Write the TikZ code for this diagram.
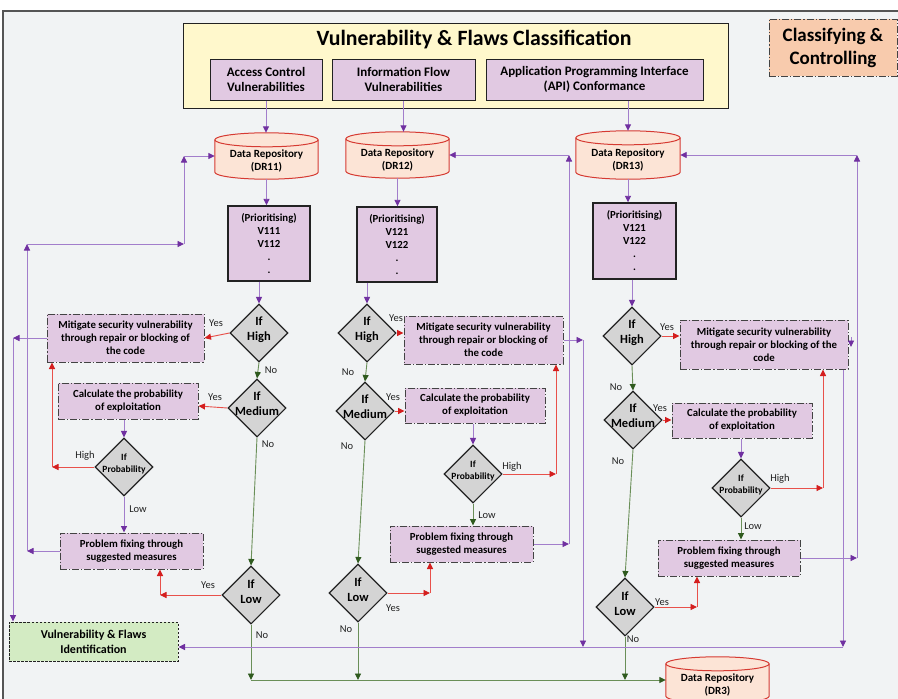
\documentclass[tikz,border=0pt]{standalone}
\usepackage{fontspec}
\setmainfont{Carlito}
\usetikzlibrary{arrows.meta,shapes.geometric,calc}

\definecolor{bgc}{HTML}{F1F3F4}
\definecolor{framec}{HTML}{555555}
\definecolor{titlefill}{HTML}{FFF8CC}
\definecolor{boxfill}{HTML}{E1C9E2}
\definecolor{cylfill}{HTML}{FCE4D6}
\definecolor{cylline}{HTML}{D63A32}
\definecolor{dmdfill}{HTML}{D4D4D4}
\definecolor{vfifill}{HTML}{D3EBC3}
\definecolor{ccfill}{HTML}{F8CBAD}
\definecolor{pline}{HTML}{A27DCB}
\definecolor{phead}{HTML}{7030A0}
\definecolor{rline}{HTML}{E8504A}
\definecolor{rhead}{HTML}{D41E1E}
\definecolor{gline}{HTML}{6A8F58}
\definecolor{ghead}{HTML}{2F5A1E}
\definecolor{ink}{HTML}{222222}

% cylinder outline drawn around an (invisible) rectangular node
\newcommand\drawcyl[1]{%
  \path let \p1=(#1.north west), \p2=(#1.south east), \n1={(\x2-\x1)/2} in
    [fill=cylfill, draw=cylline, line width=1pt]
    ({\x1},{\y1-7pt}) -- ({\x1},{\y2+7pt})
    arc[start angle=180, end angle=360, x radius={\n1*1pt}, y radius=7pt]
    -- ({\x2},{\y1-7pt})
    arc[start angle=0, end angle=180, x radius={\n1*1pt}, y radius=7pt] -- cycle;
  \path let \p1=(#1.north west), \p2=(#1.south east), \n1={(\x2-\x1)/2} in
    [draw=cylline, line width=1pt]
    ({\x1},{\y1-7pt}) arc[start angle=180, end angle=360, x radius={\n1*1pt}, y radius=7pt];
}

\tikzset{
  x=1pt, y=-1pt,
  titlebox/.style={draw=ink, line width=1pt, fill=titlefill},
  titletext/.style={font=\fontsize{21.8}{25}\selectfont\bfseries, inner sep=0pt},
  subbox/.style={draw=ink, line width=1pt, fill=boxfill, align=center, inner sep=1pt,
    font=\fontsize{13}{15.5}\selectfont\bfseries},
  ccbox/.style={draw=ink!85, line width=1pt, fill=ccfill, align=center, inner sep=1pt,
    dash pattern=on 7pt off 2pt on 1.2pt off 2pt,
    font=\fontsize{19}{23}\selectfont\bfseries},
  priobox/.style={draw=ink, line width=1.4pt, fill=boxfill, align=center, inner sep=1pt,
    font=\fontsize{10.8}{13}\selectfont\bfseries},
  actbox/.style={draw=ink!85, line width=1pt, fill=boxfill, align=center, inner sep=1pt,
    dash pattern=on 7pt off 2pt on 1.2pt off 2pt,
    font=\fontsize{10.8}{13}\selectfont\bfseries},
  vfibox/.style={draw=ink, line width=1pt, fill=vfifill, align=center, inner sep=1pt,
    dash pattern=on 2.5pt off 1.5pt,
    font=\fontsize{12}{15}\selectfont\bfseries},
  cylnode/.style={shape=rectangle, draw=none, inner sep=0pt},
  cyltext/.style={align=center, inner sep=0pt, font=\fontsize{11}{13.5}\selectfont\bfseries},
  dmd/.style={diamond, aspect=1, draw=ink, line width=1.1pt, fill=dmdfill,
    minimum width=58pt, minimum height=58pt, inner sep=0pt},
  dtext/.style={align=center, inner sep=0pt, font=\fontsize{12.5}{15}\selectfont\bfseries},
  ptext/.style={align=center, inner sep=0pt, font=\fontsize{9.5}{12}\selectfont\bfseries},
  lbl/.style={inner sep=0pt, text=ink, font=\fontsize{10.5}{12}\selectfont},
  parr/.style={draw=pline, line width=0.9pt, -{Triangle[length=6.5pt,width=6pt,color=phead]}},
  rarr/.style={draw=rline, line width=0.9pt, -{Triangle[length=6.5pt,width=6pt,color=rhead]}},
  garr/.style={draw=gline, line width=0.9pt, -{Triangle[length=6.5pt,width=6pt,color=ghead]}},
}

\begin{document}
\begin{tikzpicture}
\useasboundingbox (0,0) rectangle (898,699);
% canvas and frame
\fill[white] (0,0) rectangle (898,699);
\fill[bgc] (3,11) rectangle (898,699);
\draw[framec, line width=1.5pt] (3,699) -- (3,11) -- (898,11);

% classification header
\node[titlebox, minimum width=545pt, minimum height=85pt] (cls) at (455.5,65.5) {};
\node[titletext] (clst) at (474,40) {Vulnerability \& Flaws Classification};
\node[subbox, minimum width=112pt, minimum height=41pt] (ac) at (266,79.5) {Access Control\\Vulnerabilities};
\node[subbox, minimum width=143pt, minimum height=41pt] (inf) at (403.5,79.5) {Information Flow\\Vulnerabilities};
\node[subbox, minimum width=217pt, minimum height=41pt] (api) at (594.5,79.5) {Application Programming Interface\\(API) Conformance};
\node[ccbox, minimum width=128pt, minimum height=57pt] (cc) at (833,47.5) {Classifying \&\\Controlling};

% data repositories
\node[cylnode, minimum width=103pt, minimum height=46pt] (dr11) at (266.5,156) {};
\drawcyl{dr11}
\node[cyltext] (dr11t) at (266.5,161) {Data Repository\\(DR11)};
\node[cylnode, minimum width=103pt, minimum height=46pt] (dr12) at (397.5,155) {};
\drawcyl{dr12}
\node[cyltext] (dr12t) at (397.5,160) {Data Repository\\(DR12)};
\node[cylnode, minimum width=104pt, minimum height=48pt] (dr13) at (628,155) {};
\drawcyl{dr13}
\node[cyltext] (dr13t) at (628,160) {Data Repository\\(DR13)};
\node[cylnode, minimum width=103pt, minimum height=46pt] (dr3) at (717.5,680) {};
\drawcyl{dr3}
\node[cyltext] (dr3t) at (717.5,685) {Data Repository\\(DR3)};

% prioritising lists
\node[priobox, minimum width=82pt, minimum height=75pt] (p1) at (269,243.5) {(Prioritising)\\V111\\V112\\.\\.};
\node[priobox, minimum width=80pt, minimum height=75pt] (p2) at (397,244.5) {(Prioritising)\\V121\\V122\\.\\.};
\node[priobox, minimum width=83pt, minimum height=76pt] (p3) at (634.5,241) {(Prioritising)\\V121\\V122\\.\\.};

% decisions
\node[dmd] (h1) at (259,333) {};  \node[dtext] (h1t) at (259,330) {If\\High};
\node[dmd] (m1) at (257,408) {};  \node[dtext] (m1t) at (257,404) {If\\Medium};
\node[dmd] (pd1) at (124,467) {}; \node[ptext] (pd1t) at (124,464) {If\\Probability};
\node[dmd] (l1) at (251,595) {};  \node[dtext] (l1t) at (251,592) {If\\Low};
\node[dmd] (h2) at (367,333) {};  \node[dtext] (h2t) at (367,330) {If\\High};
\node[dmd] (m2) at (365,411) {};  \node[dtext] (m2t) at (365,407) {If\\Medium};
\node[dmd] (pd2) at (473,474) {}; \node[ptext] (pd2t) at (473,471) {If\\Probability};
\node[dmd] (l2) at (358,593) {};  \node[dtext] (l2t) at (358,590) {If\\Low};
\node[dmd] (h3) at (632,336) {};  \node[dtext] (h3t) at (632,333) {If\\High};
\node[dmd] (m3) at (633,420) {};  \node[dtext] (m3t) at (633,416) {If\\Medium};
\node[dmd] (pd3) at (741,488) {}; \node[ptext] (pd3t) at (741,485) {If\\Probability};
\node[dmd] (l3) at (625,607) {};  \node[dtext] (l3t) at (625,604) {If\\Low};

% actions
\node[actbox, minimum width=157pt, minimum height=48pt] (mit1) at (125.5,338) {Mitigate security vulnerability\\through repair or blocking of\\the code};
\node[actbox, minimum width=140pt, minimum height=36pt] (calc1) at (128,401) {Calculate the probability\\of exploitation};
\node[actbox, minimum width=143pt, minimum height=36pt] (fix1) at (131.5,551) {Problem fixing through\\suggested measures};
\node[actbox, minimum width=159pt, minimum height=48pt] (mit2) at (483.5,340) {Mitigate security vulnerability\\through repair or blocking of\\the code};
\node[actbox, minimum width=140pt, minimum height=35pt] (calc2) at (475,405.5) {Calculate the probability\\of exploitation};
\node[actbox, minimum width=143pt, minimum height=36pt] (fix2) at (461.5,544) {Problem fixing through\\suggested measures};
\node[actbox, minimum width=168pt, minimum height=49pt] (mit3) at (764,344.5) {Mitigate security vulnerability\\through repair or blocking of the\\code};
\node[actbox, minimum width=140pt, minimum height=35pt] (calc3) at (742,420.5) {Calculate the probability\\of exploitation};
\node[actbox, minimum width=142pt, minimum height=36pt] (fix3) at (729,558) {Problem fixing through\\suggested measures};
\node[vfibox, minimum width=169pt, minimum height=39pt] (vfi) at (93.5,641.5) {Vulnerability \& Flaws\\Identification};

% header to repositories to lists
\draw[parr] (ac.south) -- (ac.south |- dr11.north);
\draw[parr] (inf.south) -- (inf.south |- dr12.north);
\draw[parr] (api.south -| dr13.north) -- (dr13.north);
\draw[parr] (dr11.south) -- (dr11.south |- p1.north);
\draw[parr] (dr12.south) -- (dr12.south |- p2.north);
\draw[parr] (dr13.south) -- (dr13.south |- p3.north);
\draw[parr] (p1.south -| h1.north) -- (h1.north);
\draw[parr] (p2.south -| h2.north) -- (h2.north);
\draw[parr] (p3.south -| h3.north) -- (h3.north);

% branch one
\draw[rarr] (h1.west) -- (mit1.east);
\draw[garr] (h1.south) -- (m1.north);
\draw[rarr] (m1.west) -- ($(calc1.east)+(0,5)$);
\draw[garr] (m1.south) -- (l1.north);
\draw[parr] (calc1.south -| pd1.north) -- (pd1.north);
\coordinate (r1a) at (52,467);
\draw[rarr] (pd1.west) -- (r1a);
\draw[rarr] (r1a) -- (r1a |- mit1.south);
\draw[parr] (pd1.south) -- (pd1.south |- fix1.north);
\coordinate (r1b) at (160,595);
\draw[rarr] (l1.west) -- (r1b);
\draw[rarr] (r1b) -- (r1b |- fix1.south);
\draw[garr] (l1.south) -- (l1.south |- dr3.west);
\coordinate (q1) at (13,338);
\draw[parr] (mit1.west) -- (q1);
\draw[parr] (q1) -- (q1 |- vfi.north);
\coordinate (q2) at (27,551);
\coordinate (q3) at (27,244);
\coordinate (q4) at (184,244);
\coordinate (q5) at (184,156);
\draw[parr] (fix1.west) -- (q2);
\draw[parr] (q2) -- (q3);
\draw[parr] (q3) -- (q4);
\draw[parr] (q4) -- (q5);
\draw[parr] (q5) -- (dr11.west);

% branch two
\draw[rarr] (h2.east) -- (mit2.west |- h2.east);
\draw[garr] (h2.south) -- (m2.north);
\draw[rarr] (m2.east) -- (calc2.west |- m2.east);
\draw[garr] (m2.south) -- (l2.north);
\draw[parr] (calc2.south -| pd2.north) -- (pd2.north);
\coordinate (r2a) at (556,474);
\draw[rarr] (pd2.east) -- (r2a);
\draw[rarr] (r2a) -- (r2a |- mit2.south);
\draw[garr] (pd2.south) -- (pd2.south |- fix2.north);
\coordinate (r2b) at (430,593);
\draw[rarr] (l2.east) -- (r2b);
\draw[rarr] (r2b) -- (r2b |- fix2.south);
\draw[garr] (l2.south) -- (l2.south |- dr3.west);
\coordinate (q6) at (569,544);
\coordinate (q7) at (569,155);
\draw[parr] (fix2.east) -- (q6);
\draw[parr] (q6) -- (q7);
\draw[parr] (q7) -- (dr12.east);
\coordinate (q8) at (583,340);
\coordinate (b2) at (583,647);
\draw[parr] (mit2.east) -- (q8);
\draw[parr] (q8) -- (b2);

% branch three
\draw[rarr] (h3.east) -- (mit3.west |- h3.east);
\draw[garr] (h3.south) -- (m3.north);
\draw[rarr] (m3.east) -- (calc3.west |- m3.east);
\draw[garr] (m3.south) -- (l3.north);
\draw[parr] (calc3.south -| pd3.north) -- (pd3.north);
\coordinate (r3a) at (823,488);
\draw[rarr] (pd3.east) -- (r3a);
\draw[rarr] (r3a) -- (r3a |- mit3.south);
\draw[garr] (pd3.south) -- (pd3.south |- fix3.north);
\coordinate (r3b) at (697,607);
\draw[rarr] (l3.east) -- (r3b);
\draw[rarr] (r3b) -- (r3b |- fix3.south);
\draw[garr] (l3.south) -- (l3.south |- dr3.west);
\coordinate (q9) at (857,558);
\coordinate (q10) at (857,155);
\draw[parr] (fix3.east) -- (q9);
\draw[parr] (q9) -- (q10);
\draw[parr] (q10) -- (dr13.east);
\coordinate (b3) at (843,647);
\draw[parr] (mit3.south -| b3) -- (b3);
\coordinate (q11) at (851,337);
\draw[parr] (q11) -- (851,347);

% collecting lines
\draw[parr] (b3) -- (vfi.east |- b3);
\draw[garr] (l1.south |- dr3.west) -- (dr3.west);

% branch labels
\node[lbl] (t1) at (216,323) {Yes};
\node[lbl] (t2) at (271,370) {No};
\node[lbl] (t3) at (215,397) {Yes};
\node[lbl] (t4) at (268,444) {No};
\node[lbl] (t5) at (85,456) {High};
\node[lbl] (t6) at (138,509) {Low};
\node[lbl] (t7) at (208,585) {Yes};
\node[lbl] (t8) at (262,635) {No};
\node[lbl] (t9) at (396,318) {Yes};
\node[lbl] (t10) at (348,372) {No};
\node[lbl] (t11) at (393,397) {Yes};
\node[lbl] (t12) at (347,446) {No};
\node[lbl] (t13) at (512,467) {High};
\node[lbl] (t14) at (487,515) {Low};
\node[lbl] (t15) at (393,608) {Yes};
\node[lbl] (t16) at (346,629) {No};
\node[lbl] (t17) at (667,327) {Yes};
\node[lbl] (t18) at (616,387) {No};
\node[lbl] (t19) at (660,408) {Yes};
\node[lbl] (t20) at (618,461) {No};
\node[lbl] (t21) at (780,479) {High};
\node[lbl] (t22) at (753,526) {Low};
\node[lbl] (t23) at (662,602) {Yes};
\node[lbl] (t24) at (633,639) {No};
\end{tikzpicture}
\end{document}
